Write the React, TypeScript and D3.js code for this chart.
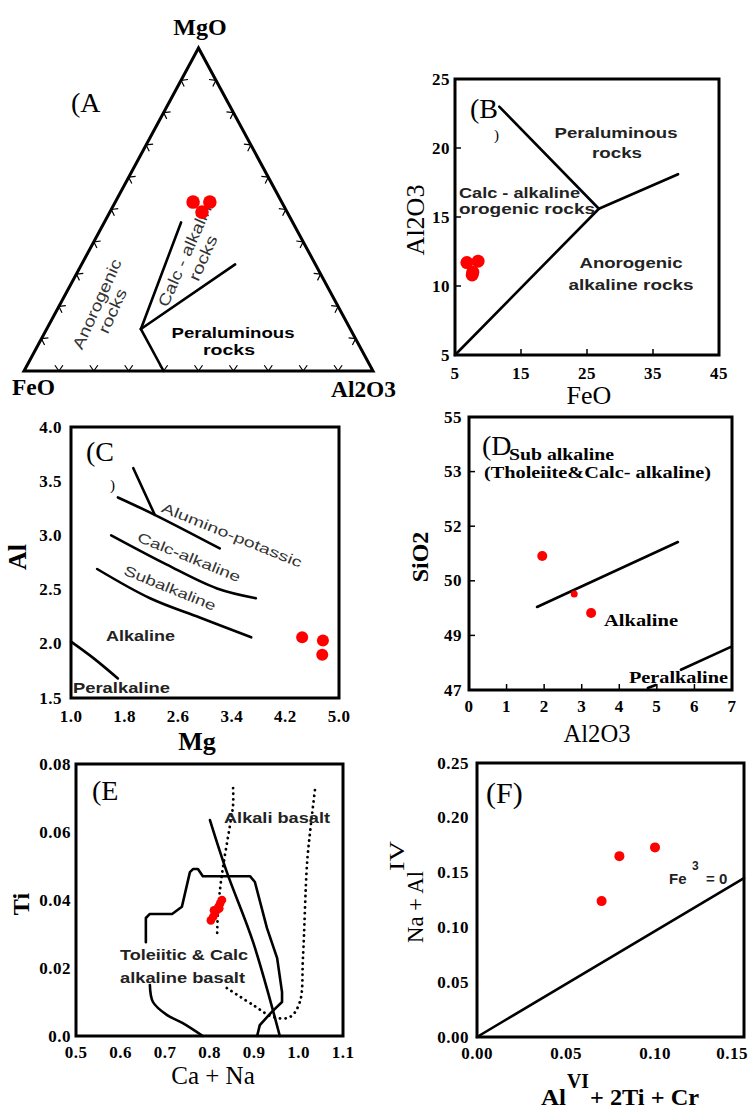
import React from "react";
import * as d3 from "d3";

type Pt = [number, number];
type Tri = [number, number, number];

// ---------- Panel A (ternary MgO - FeO - Al2O3) ----------
const aApexLabels = ["MgO", "FeO", "Al2O3"];
const aSampleMgO = [52.3, 52.3, 49.2];
const aSampleFeO = [25.4, 20.6, 24.4];
const aSampleAl2O3 = [22.3, 27.1, 26.4];
const aFieldLines: Tri[][] = [
  [[0, 60, 40], [13, 60, 27]],
  [[13, 60, 27], [46, 32, 22]],
  [[13, 60, 27], [33, 23, 44]],
];
const aTickFractions = [0.1, 0.2, 0.3, 0.4, 0.5, 0.6, 0.7, 0.8, 0.9];

// ---------- Panel B ----------
const bTicksX = [5, 15, 25, 35, 45];
const bTicksY = [5, 10, 15, 20, 25];
const bFeO = [6.8, 8.5, 7.7, 7.6];
const bAl2O3 = [11.7, 11.8, 11.0, 10.8];
const bFieldLines: Pt[][] = [
  [[11.7, 23], [26.8, 15.6]],
  [[5, 5], [26.8, 15.6]],
  [[26.8, 15.6], [38.8, 18.1]],
];

// ---------- Panel C ----------
const cTicksX = [1.0, 1.8, 2.6, 3.4, 4.2, 5.0];
const cTicksY = [1.5, 2.0, 2.5, 3.0, 3.5, 4.0];
const cMg = [4.45, 4.76, 4.75];
const cAl = [2.06, 2.03, 1.9];
const cAluminoPotassic: Pt[] = [[1.7, 3.35], [2.25, 3.19], [3.22, 2.88]];
const cAluminoBranch: Pt[] = [[1.93, 3.62], [2.25, 3.19]];
const cCalcAlkaline: Pt[] = [[1.6, 3.0], [2.43, 2.73], [3.18, 2.51], [3.76, 2.42]];
const cSubalkaline: Pt[] = [[1.39, 2.69], [2.18, 2.42], [2.93, 2.24], [3.69, 2.06]];
const cPeralkaline: Pt[] = [[1.0, 2.02], [1.33, 1.87], [1.7, 1.68]];

// ---------- Panel D ----------
const dTicksX = [0, 1, 2, 3, 4, 5, 6, 7];
const dTicksY = [47, 49, 50, 52, 53, 55];
const dAl2O3 = [1.95, 2.8, 3.25];
const dSiO2 = [50.91, 49.76, 49.41];
const dSubAlkalineBoundary: Pt[] = [[1.81, 49.52], [5.56, 51.42]];
const dPeralkalineBoundary: Pt[] = [[5.64, 47.74], [6.97, 48.58]];
const dPeralkalineStub: Pt[] = [[4.76, 47.07], [4.97, 47.18]];

// ---------- Panel E ----------
const eTicksX = [0.5, 0.6, 0.7, 0.8, 0.9, 1.0, 1.1];
const eTicksY = [0, 0.02, 0.04, 0.06, 0.08];
const eCaNa = [0.803, 0.808, 0.812, 0.816, 0.82, 0.824, 0.828, 0.81, 0.822];
const eTi = [0.034, 0.035, 0.036, 0.037, 0.038, 0.039, 0.04, 0.037, 0.0375];
const eTholeiiticUpper: Pt[] = [
  [0.657, 0.0276], [0.657, 0.0347], [0.666, 0.0359], [0.716, 0.0359], [0.738, 0.038],
  [0.756, 0.0482], [0.763, 0.0491], [0.774, 0.0491], [0.785, 0.047], [0.891, 0.047],
  [0.902, 0.0453], [0.929, 0.0318], [0.952, 0.0229], [0.963, 0.0129], [0.963, 0.01],
  [0.94, 0.0071], [0.913, 0.0032], [0.907, 0.0],
];
const eTholeiiticLower: Pt[] = [[0.666, 0.015], [0.673, 0.01], [0.704, 0.0062], [0.74, 0.0038], [0.785, 0.0]];
const eDivider: Pt[] = [[0.801, 0.0635], [0.839, 0.0482], [0.898, 0.0276], [0.958, 0.0]];
const eAlkaliLeft: Pt[] = [
  [0.853, 0.0729], [0.853, 0.068], [0.846, 0.062], [0.83, 0.0494], [0.824, 0.0435], [0.819, 0.0365], [0.817, 0.0288],
];
const eAlkaliLoop: Pt[] = [
  [0.839, 0.0141], [0.898, 0.0091], [0.943, 0.0056], [0.981, 0.0056], [1.003, 0.01],
  [1.01, 0.0229], [1.019, 0.0503], [1.026, 0.06], [1.037, 0.0724],
];

// ---------- Panel F ----------
const fTicksX = [0, 0.05, 0.1, 0.15];
const fTicksY = [0, 0.05, 0.1, 0.15, 0.2, 0.25];
const fAlVI = [0.07, 0.08, 0.1];
const fNaAlIV = [0.124, 0.165, 0.173];
const fFe3Zero: Pt[] = [[0, 0], [0.15, 0.145]];

const SERIF = "'Liberation Serif','Times New Roman',serif";
const SANS = "'Liberation Sans',Arial,sans-serif";
const RED = "#ff0000";

type TProps = {
  x: number; y: number; w?: number; size: number; bold?: boolean; family?: string;
  anchor?: "start" | "middle" | "end"; rotate?: number; fill?: string; children: React.ReactNode;
  baseline?: string; spacing?: number;
};
function T({ x, y, w, size, bold, family = SERIF, anchor = "start", rotate, fill = "#000", children, baseline, spacing }: TProps) {
  return (
    <text
      x={rotate !== undefined ? 0 : x}
      y={rotate !== undefined ? 0 : y}
      transform={rotate !== undefined ? `translate(${x},${y}) rotate(${rotate})` : undefined}
      fontFamily={family}
      fontSize={size}
      fontWeight={bold ? "bold" : "normal"}
      textAnchor={anchor}
      fill={fill}
      dominantBaseline={baseline as any}
      letterSpacing={spacing}
      {...(w ? { textLength: w, lengthAdjust: "spacingAndGlyphs" } : {})}
    >
      {children}
    </text>
  );
}

function Frame({ x, y }: { x: d3.ScaleLinear<number, number>; y: d3.ScaleLinear<number, number> }) {
  const [x0, x1] = x.range();
  const ys = y.range();
  const y0 = Math.min(...ys), y1 = Math.max(...ys);
  return <rect x={x0} y={y0} width={x1 - x0} height={y1 - y0} fill="none" stroke="#000" strokeWidth={3} />;
}

export default function App() {
  const lineOf = (sx: any, sy: any, curve: any = d3.curveLinear) =>
    d3.line<Pt>().x((d) => sx(d[0])).y((d) => sy(d[1])).curve(curve);

  // ----- A -----
  const aX = d3.scaleLinear().domain([0, 1]).range([24, 373]);
  const aY = d3.scaleLinear().domain([0, 1]).range([371, 48]);
  const tern = (m: number, f: number, a: number): Pt => {
    const s = m + f + a;
    return [aX((a + m / 2) / s), aY(m / s)];
  };
  const top = tern(100, 0, 0), left = tern(0, 100, 0), right = tern(0, 0, 100);
  const cen: Pt = [(top[0] + left[0] + right[0]) / 3, (top[1] + left[1] + right[1]) / 3];
  const sides: [Pt, Pt][] = [[left, right], [left, top], [top, right]];
  const tickPaths: string[] = [];
  sides.forEach(([p, q]) => {
    const dx = q[0] - p[0], dy = q[1] - p[1];
    const L = Math.hypot(dx, dy);
    let nx = -dy / L, ny = dx / L;
    const mx = (p[0] + q[0]) / 2, my = (p[1] + q[1]) / 2;
    if ((cen[0] - mx) * nx + (cen[1] - my) * ny < 0) { nx = -nx; ny = -ny; }
    aTickFractions.forEach((t) => {
      const px = p[0] + dx * t, py = p[1] + dy * t;
      const arms = [-35, 35].map((deg) => {
        const r = (deg * Math.PI) / 180;
        const ax = nx * Math.cos(r) - ny * Math.sin(r);
        const ay = nx * Math.sin(r) + ny * Math.cos(r);
        return `M${px},${py}L${px + ax * 7},${py + ay * 7}`;
      });
      tickPaths.push(arms.join(""));
    });
  });

  // ----- B -----
  const bX = d3.scaleLinear().domain([5, 45]).range([455, 719]);
  const bY = d3.scaleLinear().domain([5, 25]).range([355, 79]);
  // ----- C -----
  const cX = d3.scaleLinear().domain([1, 5]).range([71, 339]);
  const cY = d3.scaleLinear().domain([1.5, 4]).range([698, 427]);
  // ----- D -----
  const dX = d3.scaleLinear().domain([0, 7]).range([469, 732]);
  const dTop = 417, dBottom = 690;
  const dY = d3.scaleLinear().domain(dTicksY).range(dTicksY.map((_, i) => dBottom - (i * (dBottom - dTop)) / (dTicksY.length - 1)));
  // ----- E -----
  const eX = d3.scaleLinear().domain([0.5, 1.1]).range([76, 343]);
  const eY = d3.scaleLinear().domain([0, 0.08]).range([1036, 764]);
  // ----- F -----
  const fX = d3.scaleLinear().domain([0, 0.15]).range([477, 744]);
  const fY = d3.scaleLinear().domain([0, 0.25]).range([1037, 763]);

  const tickLabelSize = 17;
  const curveStroke = { fill: "none", stroke: "#000", strokeWidth: 2.6, strokeLinejoin: "round" as const, strokeLinecap: "round" as const };
  const dotted = { fill: "none", stroke: "#000", strokeWidth: 2.8, strokeDasharray: "0.1 5.5", strokeLinecap: "round" as const };

  const yTickLabels = (sy: any, ticks: number[], xEnd: number, fmt: (v: number) => string) =>
    ticks.map((v) => (
      <T key={"y" + v} x={xEnd} y={sy(v)} size={tickLabelSize} bold anchor="end" baseline="central" spacing={0.5}>
        {fmt(v)}
      </T>
    ));
  const xTickLabels = (sx: any, ticks: number[], yBase: number, fmt: (v: number) => string, maxX = 9999) =>
    ticks.map((v) => (
      <T key={"x" + v} x={Math.min(sx(v), maxX)} y={yBase} size={tickLabelSize} bold anchor="middle" spacing={0.5}>
        {fmt(v)}
      </T>
    ));

  return (
    <svg width={753} height={1110} style={{ position: "absolute", left: 0, top: 0, background: "#fff" }}>
      <rect width={753} height={1110} fill="#fff" />

      {/* ================= Panel A ================= */}
      <path d={`M${top[0]},${top[1]}L${left[0]},${left[1]}L${right[0]},${right[1]}Z`} fill="none" stroke="#000" strokeWidth={3} strokeLinejoin="miter" />
      <path d={tickPaths.join("")} fill="none" stroke="#000" strokeWidth={1.2} />
      {aFieldLines.map((seg, i) => (
        <path key={i} d={d3.line()(seg.map((t) => tern(t[0], t[1], t[2])))!} {...curveStroke} />
      ))}
      <T x={200} y={35} size={24} bold anchor="middle">{aApexLabels[0]}</T>
      <T x={12} y={395} size={24} bold w={43}>{aApexLabels[1]}</T>
      <T x={331} y={397} size={24} bold w={65}>{aApexLabels[2]}</T>
      <T x={71} y={112} size={28}>(A</T>
      <T x={97} y={304} size={16} family={SANS} anchor="middle" baseline="central" rotate={-65.6} w={97} fill="#333">Anorogenic</T>
      <T x={112.5} y={311} size={16} family={SANS} anchor="middle" baseline="central" rotate={-65.6} w={47} fill="#333">rocks</T>
      <T x={187} y={251} size={16} family={SANS} anchor="middle" baseline="central" rotate={-66} w={120} fill="#333">Calc - alkaline</T>
      <T x={203} y={258} size={16} family={SANS} anchor="middle" baseline="central" rotate={-66} w={48} fill="#333">rocks</T>
      <T x={233} y={338} size={15} bold family={SANS} anchor="middle" w={123}>Peraluminous</T>
      <T x={229} y={355} size={15} bold family={SANS} anchor="middle" w={52}>rocks</T>
      {aSampleMgO.map((m, i) => {
        const [px, py] = tern(m, aSampleFeO[i], aSampleAl2O3[i]);
        return <circle key={i} cx={px} cy={py} r={6.8} fill={RED} />;
      })}

      {/* ================= Panel B ================= */}
      {bFieldLines.map((seg, i) => (
        <path key={i} d={lineOf(bX, bY)(seg)!} {...curveStroke} />
      ))}
      {bTicksX.slice(1, -1).map((v) => (
        <line key={"bt" + v} x1={bX(v)} x2={bX(v)} y1={bY(5)} y2={bY(5) - 6} stroke="#000" strokeWidth={1.5} />
      ))}
      {bTicksY.slice(1, -1).map((v) => (
        <line key={"bty" + v} x1={bX(5)} x2={bX(5) + 6} y1={bY(v)} y2={bY(v)} stroke="#000" strokeWidth={1.5} />
      ))}
      <Frame x={bX} y={bY} />
      {yTickLabels(bY, bTicksY, 450, (v) => String(v))}
      {xTickLabels(bX, bTicksX, 379, (v) => String(v))}
      <T x={589} y={404} size={26} anchor="middle">FeO</T>
      <T x={424} y={220} size={26} anchor="middle" rotate={-90}>Al2O3</T>
      <T x={470} y={118} size={28}>(B</T>
      <T x={494} y={140} size={15}>)</T>
      <T x={616} y={138} size={15} bold family={SANS} anchor="middle" w={123} fill="#222">Peraluminous</T>
      <T x={617} y={158} size={15} bold family={SANS} anchor="middle" w={50} fill="#222">rocks</T>
      <T x={459} y={198} size={15} bold family={SANS} w={121} fill="#222">Calc - alkaline</T>
      <T x={459} y={214} size={15} bold family={SANS} w={136} fill="#222">orogenic rocks</T>
      <T x={631} y={268} size={15} bold family={SANS} anchor="middle" w={103} fill="#222">Anorogenic</T>
      <T x={631} y={290} size={15} bold family={SANS} anchor="middle" w={125} fill="#222">alkaline rocks</T>
      {bFeO.map((v, i) => (
        <circle key={i} cx={bX(v)} cy={bY(bAl2O3[i])} r={6.5} fill={RED} />
      ))}

      {/* ================= Panel C ================= */}
      <path d={lineOf(cX, cY)(cAluminoBranch)!} {...curveStroke} />
      <path d={lineOf(cX, cY, d3.curveCatmullRom)(cAluminoPotassic)!} {...curveStroke} />
      <path d={lineOf(cX, cY, d3.curveCatmullRom)(cCalcAlkaline)!} {...curveStroke} />
      <path d={lineOf(cX, cY, d3.curveCatmullRom)(cSubalkaline)!} {...curveStroke} />
      <path d={lineOf(cX, cY, d3.curveCatmullRom)(cPeralkaline)!} {...curveStroke} />
      <Frame x={cX} y={cY} />
      {yTickLabels(cY, cTicksY, 62, (v) => v.toFixed(1))}
      {xTickLabels(cX, cTicksX, 722, (v) => v.toFixed(1))}
      <T x={197} y={750} size={26} bold anchor="middle">Mg</T>
      <T x={26} y={557} size={26} bold anchor="middle" rotate={-90}>Al</T>
      <T x={86} y={461} size={28}>(C</T>
      <T x={110} y={490} size={15}>)</T>
      <T x={232} y={535} size={14} family={SANS} anchor="middle" baseline="central" rotate={22} w={150} fill="#333">Alumino-potassic</T>
      <T x={189} y={557} size={14} family={SANS} anchor="middle" baseline="central" rotate={22} w={110} fill="#333">Calc-alkaline</T>
      <T x={170} y={588} size={14} family={SANS} anchor="middle" baseline="central" rotate={22} w={98} fill="#333">Subalkaline</T>
      <T x={106} y={641} size={15} bold family={SANS} w={69} fill="#222">Alkaline</T>
      <T x={73} y={693} size={15} bold family={SANS} w={97} fill="#222">Peralkaline</T>
      {cMg.map((v, i) => (
        <circle key={i} cx={cX(v)} cy={cY(cAl[i])} r={6} fill={RED} />
      ))}

      {/* ================= Panel D ================= */}
      <path d={lineOf(dX, dY)(dSubAlkalineBoundary)!} {...curveStroke} />
      <path d={lineOf(dX, dY)(dPeralkalineBoundary)!} {...curveStroke} />
      <path d={lineOf(dX, dY)(dPeralkalineStub)!} {...curveStroke} />
      {dTicksX.slice(1, -1).map((v) => (
        <line key={"dt" + v} x1={dX(v)} x2={dX(v)} y1={dBottom} y2={dBottom - 6} stroke="#000" strokeWidth={1.5} />
      ))}
      {dTicksY.slice(1, -1).map((v) => (
        <line key={"dty" + v} x1={dX(0)} x2={dX(0) + 6} y1={dY(v)} y2={dY(v)} stroke="#000" strokeWidth={1.5} />
      ))}
      <rect x={dX(0)} y={dTop} width={dX(7) - dX(0)} height={dBottom - dTop} fill="none" stroke="#000" strokeWidth={3} />
      {yTickLabels(dY, dTicksY, 462, (v) => String(v))}
      {xTickLabels(dX, dTicksX, 712, (v) => String(v))}
      <T x={428} y={557} size={24} bold anchor="middle" rotate={-90}>SiO2</T>
      <T x={597} y={742} size={25} anchor="middle" w={67}>Al2O3</T>
      <T x={482} y={455} size={28}>(D</T>
      <T x={509} y={460} size={16} bold w={105}>Sub alkaline</T>
      <T x={484} y={478} size={16} bold w={227}>(Tholeiite&amp;Calc- alkaline)</T>
      <T x={604} y={626} size={16} bold w={74}>Alkaline</T>
      <T x={629} y={683} size={16} bold w={99}>Peralkaline</T>
      {dAl2O3.map((v, i) => (
        <circle key={i} cx={dX(v)} cy={dY(dSiO2[i])} r={i === 1 ? 3.5 : 5} fill={RED} />
      ))}

      {/* ================= Panel E ================= */}
      <path d={lineOf(eX, eY)(eTholeiiticUpper)!} {...curveStroke} />
      <path d={lineOf(eX, eY, d3.curveCatmullRom)(eTholeiiticLower)!} {...curveStroke} />
      <path d={lineOf(eX, eY, d3.curveCatmullRom)(eDivider)!} {...curveStroke} />
      <path d={lineOf(eX, eY, d3.curveCatmullRom)(eAlkaliLeft)!} {...dotted} />
      <path d={lineOf(eX, eY, d3.curveCatmullRom)(eAlkaliLoop)!} {...dotted} />
      <Frame x={eX} y={eY} />
      {yTickLabels(eY, eTicksY, 71, (v) => (v === 0 ? "0.0" : v.toFixed(2)))}
      {xTickLabels(eX, eTicksX, 1058, (v) => v.toFixed(1))}
      <T x={213} y={1084} size={25} anchor="middle">Ca + Na</T>
      <T x={29} y={904} size={24} bold anchor="middle" rotate={-90}>Ti</T>
      <T x={92} y={800} size={28}>(E</T>
      <T x={224} y={823} size={15} bold family={SANS} w={106} fill="#222">Alkali basalt</T>
      <T x={120} y={960} size={15} bold family={SANS} w={128} fill="#222">Toleiitic &amp; Calc</T>
      <T x={120} y={983} size={15} bold family={SANS} w={125} fill="#222">alkaline basalt</T>
      {eCaNa.map((v, i) => (
        <circle key={i} cx={eX(v)} cy={eY(eTi[i])} r={4.3} fill={RED} />
      ))}

      {/* ================= Panel F ================= */}
      <path d={lineOf(fX, fY)(fFe3Zero)!} {...curveStroke} />
      <Frame x={fX} y={fY} />
      {yTickLabels(fY, fTicksY, 469, (v) => v.toFixed(2))}
      {xTickLabels(fX, fTicksX, 1059, (v) => v.toFixed(2), 732)}
      <T x={486} y={803} size={30}>(F)</T>
      <text fontFamily={SANS} fontWeight="bold" fontSize={15} fill="#222">
        <tspan x={669} y={884}>Fe</tspan>
        <tspan x={692} y={870} fontSize={12}>3</tspan>
        <tspan x={706} y={884}>= 0</tspan>
      </text>
      <g transform="translate(423,943) rotate(-90)">
        <text fontFamily={SERIF} fontSize={24} fill="#000">
          <tspan x={0} y={0} textLength={72} lengthAdjust="spacingAndGlyphs">Na + Al</tspan>
          <tspan x={72} y={-19} fontSize={22} textLength={30} lengthAdjust="spacingAndGlyphs">IV</tspan>
        </text>
      </g>
      <text fontFamily={SERIF} fontSize={24} fontWeight="bold" fill="#000">
        <tspan x={541} y={1105} textLength={25} lengthAdjust="spacingAndGlyphs">Al</tspan>
        <tspan x={567} y={1088} fontSize={20} textLength={22} lengthAdjust="spacingAndGlyphs">VI</tspan>
        <tspan x={590} y={1105} textLength={109} lengthAdjust="spacingAndGlyphs">+ 2Ti + Cr</tspan>
      </text>
      {fAlVI.map((v, i) => (
        <circle key={i} cx={fX(v)} cy={fY(fNaAlIV[i])} r={5} fill={RED} />
      ))}
    </svg>
  );
}
